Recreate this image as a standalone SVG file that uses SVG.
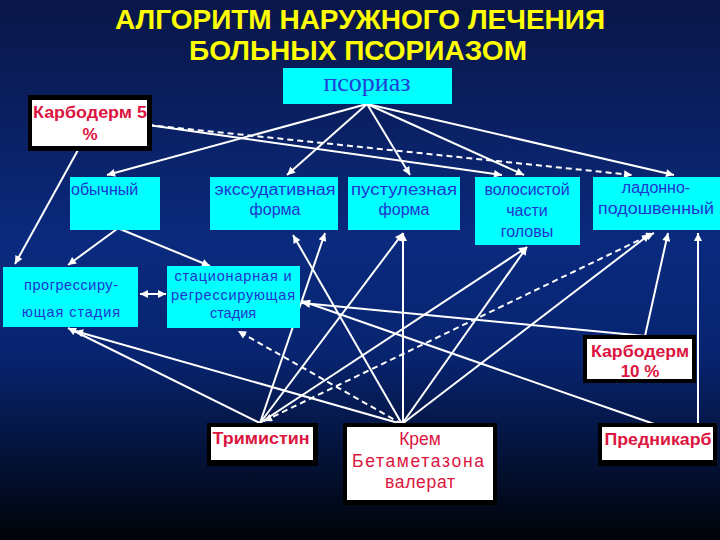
<svg xmlns="http://www.w3.org/2000/svg" width="720" height="540" viewBox="0 0 720 540">
<defs>
<linearGradient id="bg" x1="0" y1="0" x2="0" y2="1">
<stop offset="0" stop-color="#0a1648"/>
<stop offset="0.45" stop-color="#0a2a7e"/>
<stop offset="0.66" stop-color="#082470"/>
<stop offset="1" stop-color="#000308"/>
</linearGradient>
<marker id="ah" viewBox="0 0 10 10" refX="10" refY="5" markerWidth="9" markerHeight="8" markerUnits="userSpaceOnUse" orient="auto-start-reverse">
<path d="M0,0 L10,5 L0,10 z" fill="#ffffff"/>
</marker>
<style>
.cy{fill:#00ffff}
.bt{font-family:"Liberation Sans",Arial,sans-serif;font-size:16px;fill:#1f35d2;text-anchor:middle}
.bs{font-family:"Liberation Sans",Arial,sans-serif;font-size:14.5px;fill:#1f35d2;text-anchor:middle}
.blk{fill:#000000}
.wh{fill:#ffffff}
.rt{font-family:"Liberation Sans",Arial,sans-serif;font-size:17px;font-weight:bold;fill:#dc1440;text-anchor:middle}
.rn{font-family:"Liberation Sans",Arial,sans-serif;font-size:17.5px;fill:#dc1440;text-anchor:middle}
.ttl{font-family:"Liberation Sans",Arial,sans-serif;font-size:28.5px;font-weight:bold;fill:#ffff00;text-anchor:middle}
.c line{stroke:#ffffff;stroke-width:2;marker-end:url(#ah)}
.c line.d{stroke-dasharray:6 4}
.c line.b{marker-start:url(#ah)}
</style>
</defs>
<rect width="720" height="540" fill="url(#bg)"/>
<g id="title">
<text class="ttl" x="360" y="29" textLength="490" lengthAdjust="spacingAndGlyphs">АЛГОРИТМ НАРУЖНОГО ЛЕЧЕНИЯ</text>
<text class="ttl" x="358" y="60" textLength="338" lengthAdjust="spacingAndGlyphs">БОЛЬНЫХ ПСОРИАЗОМ</text>
</g>
<g class="c" id="connectors">
<line x1="367" y1="104" x2="107" y2="175"/>
<line x1="367" y1="104" x2="287" y2="175"/>
<line x1="367" y1="104" x2="410" y2="175"/>
<line x1="367" y1="104" x2="524" y2="175"/>
<line x1="367" y1="104" x2="674" y2="175"/>
<line x1="148" y1="125" x2="502" y2="175"/>
<line class="d" x1="148" y1="125" x2="632" y2="175"/>
<line x1="78" y1="150" x2="15" y2="264"/>
<line x1="117" y1="229" x2="68" y2="265"/>
<line x1="120" y1="229" x2="210" y2="266"/>
<line class="b" x1="140" y1="294" x2="166" y2="294"/>
<line x1="260" y1="423" x2="68" y2="328"/>
<line x1="402" y1="424" x2="75" y2="331"/>
<line x1="260" y1="423" x2="325" y2="233"/>
<line x1="402" y1="424" x2="293" y2="235"/>
<line x1="260" y1="423" x2="403" y2="233"/>
<line x1="403" y1="424" x2="403" y2="233"/>
<line x1="260" y1="423" x2="527" y2="247"/>
<line x1="402" y1="424" x2="527" y2="247"/>
<line class="d b" x1="264" y1="421" x2="654" y2="233"/>
<line x1="402" y1="424" x2="650" y2="234"/>
<line class="d" x1="402" y1="424" x2="238" y2="331"/>
<line x1="645" y1="336" x2="302" y2="303"/>
<line x1="645" y1="336" x2="668" y2="233"/>
<line x1="657" y1="425" x2="302" y2="301"/>
<line x1="698" y1="427" x2="698" y2="233"/>
</g>
<g id="psoriaz">
<rect class="cy" x="283" y="68" width="169" height="36"/>
<text x="367" y="91" font-family="'Liberation Serif','Times New Roman',serif" font-size="26" fill="#2040d8" text-anchor="middle">псориаз</text>
</g>
<g id="karboderm5">
<rect class="blk" x="28" y="95" width="124" height="56"/>
<rect class="wh" x="32" y="100" width="115" height="46"/>
<text class="rt" x="90" y="118" textLength="114" lengthAdjust="spacingAndGlyphs">Карбодерм 5</text>
<text class="rt" x="90" y="140">%</text>
</g>
<g id="obychny">
<rect class="cy" x="70" y="177" width="90" height="53"/>
<text class="bt" x="71" y="195" style="text-anchor:start">обычный</text>
</g>
<g id="exsud">
<rect class="cy" x="210" y="177" width="128" height="53"/>
<text class="bt" x="275" y="195" textLength="121" lengthAdjust="spacingAndGlyphs">экссудативная</text>
<text class="bt" x="275" y="215">форма</text>
</g>
<g id="pustul">
<rect class="cy" x="348" y="177" width="112" height="53"/>
<text class="bt" x="404" y="195" textLength="106" lengthAdjust="spacingAndGlyphs">пустулезная</text>
<text class="bt" x="404" y="215">форма</text>
</g>
<g id="volos">
<rect class="cy" x="475" y="177" width="105" height="68"/>
<text class="bt" x="527" y="195">волосистой</text>
<text class="bt" x="527" y="216">части</text>
<text class="bt" x="527" y="237">головы</text>
</g>
<g id="ladonno">
<rect class="cy" x="593" y="177" width="127" height="53"/>
<text class="bt" x="656" y="193">ладонно-</text>
<text class="bt" x="656" y="214" textLength="116" lengthAdjust="spacingAndGlyphs">подошвенный</text>
</g>
<g id="progress">
<rect class="cy" x="3" y="267" width="135" height="60"/>
<text class="bs" x="71" y="290" textLength="94" lengthAdjust="spacing">прогрессиру-</text>
<text class="bs" x="71" y="317" textLength="98" lengthAdjust="spacing">ющая стадия</text>
</g>
<g id="stacionar">
<rect class="cy" x="167" y="266" width="133" height="62"/>
<text class="bs" x="233" y="281" textLength="117" lengthAdjust="spacing">стационарная и</text>
<text class="bs" x="233" y="300" textLength="124" lengthAdjust="spacing">регрессирующая</text>
<text class="bs" x="233" y="318">стадия</text>
</g>
<g id="karboderm10">
<rect class="blk" x="583" y="335" width="113" height="48"/>
<rect class="wh" x="587" y="339" width="105" height="40"/>
<text class="rt" x="640" y="357" textLength="98" lengthAdjust="spacingAndGlyphs">Карбодерм</text>
<text class="rt" x="640" y="377">10 %</text>
</g>
<g id="trimistin">
<rect class="blk" x="207" y="423" width="111" height="43"/>
<rect class="wh" x="211" y="427" width="102" height="33"/>
<text class="rt" x="261" y="444" textLength="97" lengthAdjust="spacingAndGlyphs">Тримистин</text>
</g>
<g id="krem">
<rect class="blk" x="343" y="423" width="154" height="82"/>
<rect class="wh" x="347" y="427" width="146" height="73"/>
<text class="rn" x="420" y="445">Крем</text>
<text class="rn" x="418" y="467" textLength="132" lengthAdjust="spacing">Бетаметазона</text>
<text class="rn" x="420" y="488" textLength="70" lengthAdjust="spacing">валерат</text>
</g>
<g id="prednikarb">
<rect class="blk" x="598" y="423" width="119" height="43"/>
<rect class="wh" x="602" y="427" width="111" height="33"/>
<text class="rt" x="658" y="445" textLength="107" lengthAdjust="spacingAndGlyphs">Предникарб</text>
</g>
</svg>
